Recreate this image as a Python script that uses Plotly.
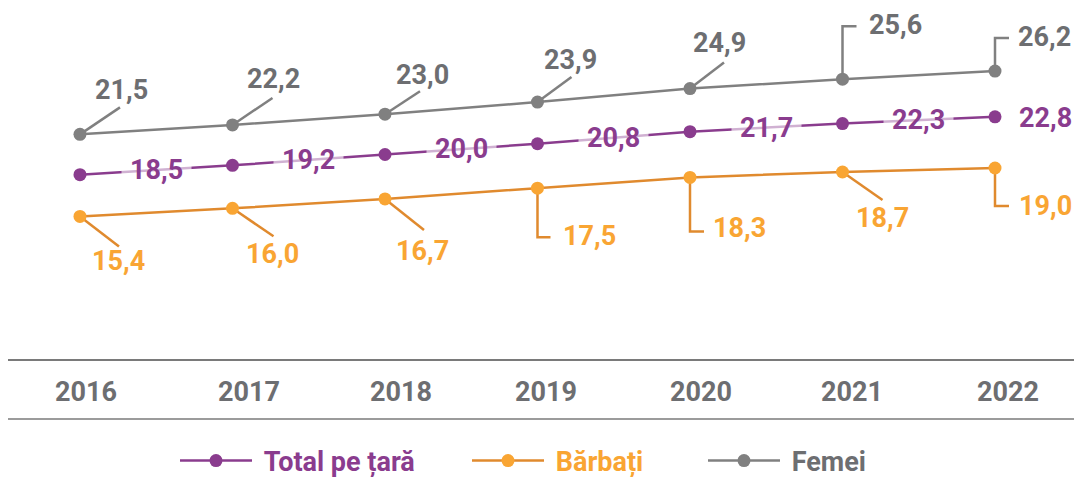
import plotly.graph_objects as go

# ---- data ----
years = ["2016", "2017", "2018", "2019", "2020", "2021", "2022"]
total = [18.5, 19.2, 20.0, 20.8, 21.7, 22.3, 22.8]
barbati = [15.4, 16.0, 16.7, 17.5, 18.3, 18.7, 19.0]
femei = [21.5, 22.2, 23.0, 23.9, 24.9, 25.6, 26.2]
series_names = ["Total pe țară", "Bărbați", "Femei"]

# ---- styling ----
PURPLE = "#8a3c8e"
ORANGE_M = "#f9a533"
ORANGE_L = "#e08a2e"
GREY_M = "#808080"
GREY_T = "#6d6e71"
RULE = "#7a7a7a"
FONT = "Roboto"
FS = 27

W, H = 1074, 477
ML, MR, MT, MB = 8, 0, 20, 118
PLOT_W = W - ML - MR
PLOT_H = H - MT - MB
BOTTOM_LINE_PX = 419   # second rule below the year labels
YEAR_Y_PX = 392
YEAR_XSHIFT = [6, 17, 16, 9, 11, 9, 13]
LEGEND_Y_PX = 461
LEGEND_X_PX = [175, 467, 703]

# label placement (pixels): diag -> (leader dx, leader dy, text dx, text dy)
#                           elbow -> (vertical len, horizontal len, text left, text dy)
femei_place = [
    ("diag", 40, 27, 42, 44),
    ("diag", 40, 27, 41, 46),
    ("diag", 35, 23, 38, 39),
    ("diag", 34, 25, 33, 42),
    ("diag", 34, 26, 29, 46),
    ("elbow", 53, 14, 24, 54),
    ("elbow", 33, 14, 21, 34),
]
barbati_place = [
    ("diag", 39, 30, 39, 45),
    ("diag", 41, 28, 40, 46),
    ("diag", 39, 31, 38, 52),
    ("elbow", 49, 13, 24, 48),
    ("elbow", 54, 14, 21, 51),
    ("diag", 40, 28, 40, 46),
    ("elbow", 38, 14, 22, 38),
]


def fmt(v):
    return f"{v:.1f}".replace(".", ",")


def py(px):
    """page pixel row -> paper y"""
    return (H - MB - px) / PLOT_H


x = list(range(len(years)))

fig = go.Figure()
specs = [
    (total, PURPLE, PURPLE, PURPLE, "legend"),
    (barbati, ORANGE_L, ORANGE_M, ORANGE_M, "legend2"),
    (femei, GREY_M, GREY_M, GREY_T, "legend3"),
]
for name, (vals, lc, mc, tc, lg) in zip(series_names, specs):
    fig.add_trace(go.Scatter(
        x=x, y=vals, mode="lines+markers",
        name=f"<span style='color:{tc}'>\u00a0{name}</span>",
        line=dict(color=lc, width=2.5),
        marker=dict(color=mc, size=13),
        legend=lg,
    ))

annotations = []
shapes = []


def add_labels(values, places, direction, line_color, text_color):
    # direction: +1 label above, -1 label below
    for i, (v, p) in enumerate(zip(values, places)):
        kind = p[0]
        if kind == "diag":
            _, ldx, ldy, tdx, tdy = p
            path = f"M0,0 L{ldx},{direction * ldy}"
            xa = "center"
        else:
            _, vl, hl, tdx, tdy = p
            path = f"M0,0 L0,{direction * vl} L{hl},{direction * vl}"
            xa = "left"
        annotations.append(dict(
            x=i, y=v, xref="x", yref="y", text=fmt(v), showarrow=False,
            xanchor=xa, yanchor="middle",
            xshift=tdx, yshift=direction * tdy,
            font=dict(family=FONT, size=FS, color=text_color, weight=700),
        ))
        shapes.append(dict(
            type="path", xref="x", yref="y",
            xsizemode="pixel", ysizemode="pixel",
            xanchor=i, yanchor=v, path=path,
            line=dict(color=line_color, width=2.5), layer="below",
        ))


add_labels(femei, femei_place, +1, GREY_M, GREY_T)
add_labels(barbati, barbati_place, -1, ORANGE_L, ORANGE_M)

# total labels sit on the line between points
for i, v in enumerate(total):
    if i < len(total) - 1:
        annotations.append(dict(
            x=i + 0.5, y=(v + total[i + 1]) / 2, xref="x", yref="y",
            text=fmt(v), showarrow=False, xanchor="center", yanchor="middle",
            bgcolor="rgba(255,255,255,0.6)", borderpad=8,
            font=dict(family=FONT, size=FS, color=PURPLE, weight=700),
        ))
    else:
        annotations.append(dict(
            x=i, y=v, xref="x", yref="y", text=fmt(v), showarrow=False,
            xanchor="left", yanchor="middle", xshift=22, yshift=-1,
            font=dict(family=FONT, size=FS, color=PURPLE, weight=700),
        ))

# year labels between the two rules
for i, yr in enumerate(years):
    annotations.append(dict(
        x=i, y=py(YEAR_Y_PX), xref="x", yref="paper", text=yr,
        showarrow=False, xanchor="center", yanchor="middle",
        xshift=YEAR_XSHIFT[i],
        font=dict(family=FONT, size=FS, color=GREY_T, weight=700),
    ))

# second rule below the year labels
shapes.append(dict(type="line", xref="paper", yref="paper", x0=0, x1=1,
                   y0=py(BOTTOM_LINE_PX), y1=py(BOTTOM_LINE_PX),
                   line=dict(color=RULE, width=1.5)))

legends = {}
for key, px in zip(["legend", "legend2", "legend3"], LEGEND_X_PX):
    legends[key] = dict(
        orientation="h", x=(px - ML) / PLOT_W, xanchor="left",
        y=py(LEGEND_Y_PX), yanchor="middle", itemwidth=72,
        font=dict(family=FONT, size=FS, weight=700),
        bgcolor="rgba(0,0,0,0)",
    )

fig.update_layout(
    width=W, height=H, autosize=False,
    margin=dict(l=ML, r=MR, t=MT, b=MB, autoexpand=False),
    paper_bgcolor="white", plot_bgcolor="white",
    showlegend=True,
    xaxis=dict(range=[-0.472, 6.518], tickvals=x, showticklabels=False,
               showgrid=False, zeroline=False, showline=True,
               linecolor=RULE, linewidth=1.5, ticks="", fixedrange=True),
    yaxis=dict(range=[4.8, 30.0], visible=False, fixedrange=True),
    annotations=annotations,
    shapes=shapes,
    **legends,
)

fig.write_html(
    "out.html",
    config={"displayModeBar": False},
    post_script="document.body.style.margin='0';document.body.style.overflow='hidden';",
)
